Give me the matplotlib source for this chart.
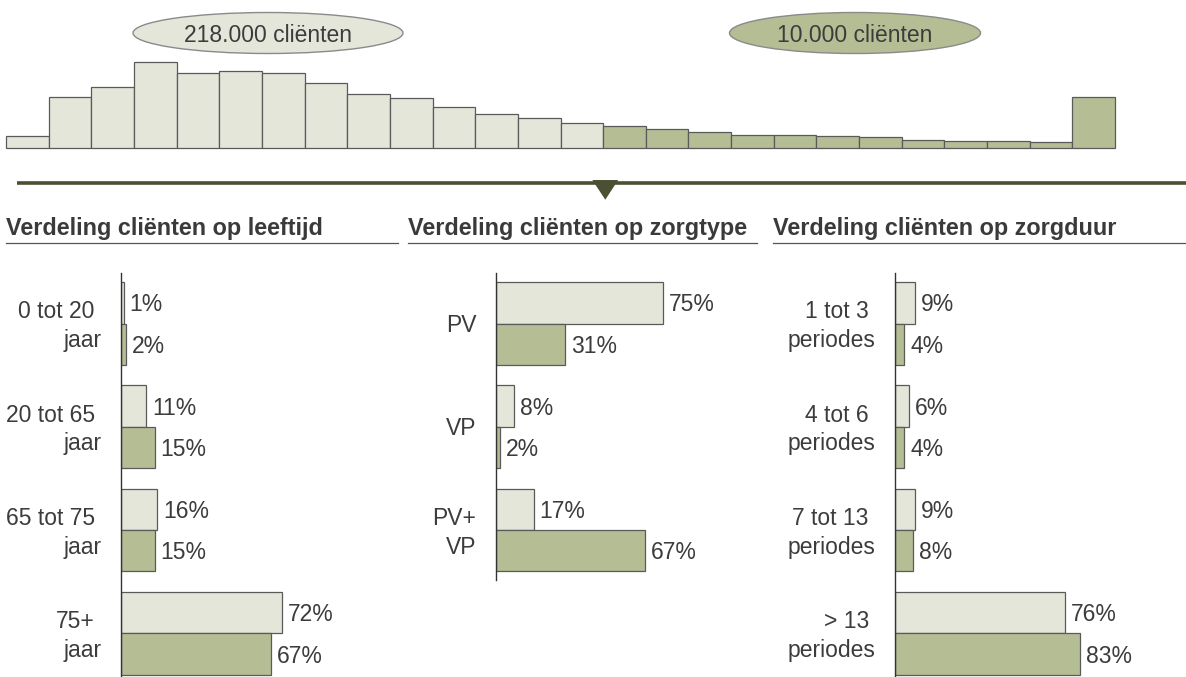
import matplotlib
matplotlib.use("Agg")
import numpy as np
import matplotlib.pyplot as plt
from matplotlib.patches import Ellipse, Polygon

plt.rcParams['font.family'] = ['Liberation Sans', 'DejaVu Sans']

# histogram on top: 14 light bars (218.000 clienten), 12 dark bars (10.000 clienten)
hist_light = [12, 50.4, 60.4, 85.4, 74.4, 76.4, 74.4, 64.4, 53.4, 49.4, 41, 34, 30, 25]
hist_dark = [22, 19, 16, 13, 13, 12, 11, 8, 7, 7, 6, 51]
group_names = ["218.000 cliënten", "10.000 cliënten"]

# bottom panels
titles = ["Verdeling cliënten op leeftijd",
          "Verdeling cliënten op zorgtype",
          "Verdeling cliënten op zorgduur"]

age_labels = ["0 tot 20\njaar", "20 tot 65\njaar", "65 tot 75\njaar", "75+\njaar"]
age_light = [1, 11, 16, 72]
age_dark = [2, 15, 15, 67]

type_labels = ["PV", "VP", "PV+\nVP"]
type_light = [75, 8, 17]
type_dark = [31, 2, 67]

dur_labels = ["1 tot 3\nperiodes", "4 tot 6\nperiodes", "7 tot 13\nperiodes", "> 13\nperiodes"]
dur_light = [9, 6, 9, 76]
dur_dark = [4, 4, 8, 83]

LIGHT = "#e4e6da"
DARK = "#b5bd95"
EDGE = "#5a5a5a"
TXT = "#3c3c3c"
OLIVE = "#4b5032"
FS = 16.5

W, H = 1186, 677
fig = plt.figure(figsize=(W / 100, H / 100), dpi=100)


def rect(x0, y0, x1, y1):
    return [x0 / W, 1 - y1 / H, (x1 - x0) / W, (y1 - y0) / H]


# overlay in pixel coordinates for the decorations
deco = fig.add_axes([0, 0, 1, 1])
deco.set_xlim(0, W)
deco.set_ylim(H, 0)
deco.axis('off')

# histogram
base = 147.7
hx = fig.add_axes(rect(6, 0, 1115, base))
vals = hist_light + hist_dark
cols = [LIGHT] * len(hist_light) + [DARK] * len(hist_dark)
hx.bar(np.arange(len(vals)), vals, width=1.0, color=cols, edgecolor=EDGE,
       linewidth=0.9, clip_on=False)
hx.set_xlim(-0.5, len(vals) - 0.5)
hx.set_ylim(0, base)
hx.axis('off')

# ellipses with client counts
for (cx, w, fc), name in zip([(268, 270, LIGHT), (855, 251, DARK)], group_names):
    deco.add_patch(Ellipse((cx, 33), w, 41, facecolor=fc, edgecolor="#8a8a8a", lw=1))
    deco.text(cx, 42.5, name, ha='center', va='baseline', fontsize=FS, color=TXT)

# divider with triangle
deco.plot([17, W], [183.3, 183.3], color=OLIVE, lw=2.6, solid_capstyle='butt')
deco.add_patch(Polygon([(589.5, 178.5), (621, 178.5), (605.3, 202.5)], closed=True,
                       facecolor=OLIVE, edgecolor='white', lw=2.2, joinstyle='round'))

# section titles with underline
for t, x0, x1 in zip(titles, [6, 408, 773], [398, 757, W]):
    deco.text(x0, 234.5, t, ha='left', va='baseline', fontsize=16.8,
              fontweight='bold', color="#3a3a3a")
    deco.plot([x0, x1], [242.7, 242.7], color="#555555", lw=0.9)

# bar panels
PX_UNIT = 103.3
PX_PCT = 2.23
TOP = 273
C0 = 323.5


def panel(x_axis, x_right, y_bottom, labels, light, dark, indent):
    ax = fig.add_axes(rect(x_axis, TOP, x_right, y_bottom))
    y = np.arange(len(labels))
    ax.barh(y - 0.2, light, height=0.4, color=LIGHT, edgecolor=EDGE, lw=0.9)
    ax.barh(y + 0.2, dark, height=0.4, color=DARK, edgecolor=EDGE, lw=0.9)
    ax.set_xlim(0, (x_right - x_axis) / PX_PCT)
    ax.set_ylim((y_bottom - C0) / PX_UNIT, -(C0 - TOP) / PX_UNIT)
    for s in ['top', 'right', 'bottom']:
        ax.spines[s].set_visible(False)
    ax.spines['left'].set_color("#333333")
    ax.spines['left'].set_linewidth(1.0)
    ax.set_xticks([])
    ax.set_yticks([])
    for i in y:
        for v, off in [(light[i], -0.2), (dark[i], 0.2)]:
            ax.annotate(f"{v}%", xy=(v, i + off), xytext=(6, -8.5),
                        textcoords='offset pixels', ha='left', va='baseline',
                        fontsize=FS, color=TXT)
        lines = labels[i].split("\n")
        if len(lines) == 1:
            ax.annotate(lines[0], xy=(0, i), xytext=(-19.5, -8),
                        textcoords='offset pixels', ha='right', va='baseline',
                        fontsize=FS, color=TXT)
        else:
            ax.annotate(lines[0], xy=(0, i), xytext=(-19.5 - indent, 5),
                        textcoords='offset pixels', ha='right', va='baseline',
                        fontsize=FS, color=TXT)
            ax.annotate(lines[1], xy=(0, i), xytext=(-19.5, -23.5),
                        textcoords='offset pixels', ha='right', va='baseline',
                        fontsize=FS, color=TXT)
    return ax


panel(121.3, 400, H, age_labels, age_light, age_dark, 7)
panel(495.7, 770, 580, type_labels, type_light, type_dark, 0)
panel(895.3, W, H, dur_labels, dur_light, dur_dark, 7)

fig.savefig("out.png", dpi=100)
